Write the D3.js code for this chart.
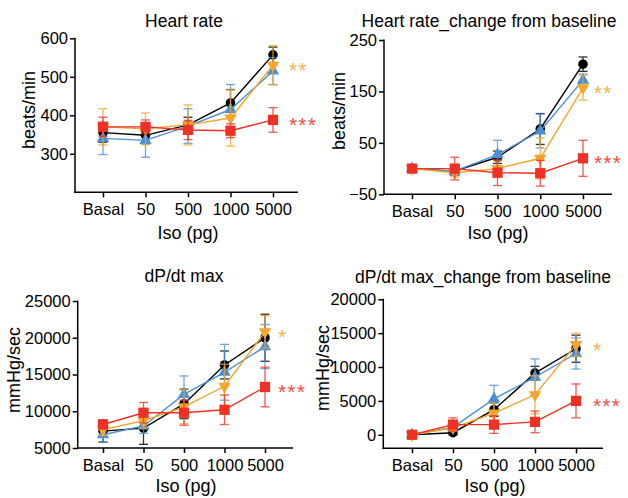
<!DOCTYPE html>
<html>
<head>
<meta charset="utf-8">
<script src="https://cdn.jsdelivr.net/npm/d3@7"></script>
<style>
  html, body { margin: 0; padding: 0; background: #ffffff; }
  svg { display: block; font-family: "Liberation Sans", Arial, sans-serif; }
</style>
</head>
<body>
<script>
// ---------------- DATA ----------------
const categories = ["Basal", "50", "500", "1000", "5000"];

// Heart rate (beats/min)
const hrTicks = [300, 400, 500, 600];
const hrBlack = [355, 348, 375, 432, 557];
const hrBlackErr = [25, 22, 20, 35, 20];
const hrBlue = [340, 335, 372, 415, 515];
const hrBlueErr = [42, 44, 45, 65, 35];
const hrOrange = [370, 365, 375, 393, 530];
const hrOrangeErr = [47, 41, 52, 73, 51];
const hrRed = [370, 370, 362, 360, 388];
const hrRedErr = [25, 18, 25, 18, 32];

// Heart rate change from baseline (beats/min)
const hrcTicks = [-50, 50, 150, 250];
const hrcBlack = [0, -5, 22, 77, 203];
const hrcBlackErr = [0, 8, 12, 30, 14];
const hrcBlue = [0, -5, 27, 73, 172];
const hrcBlueErr = [0, 8, 28, 33, 12];
const hrcOrange = [0, -8, 0, 20, 157];
const hrcOrangeErr = [0, 8, 15, 40, 24];
const hrcRed = [0, 0, -8, -9, 20];
const hrcRedErr = [0, 22, 25, 25, 35];

// dP/dt max (mmHg/sec)
const dpTicks = [5000, 10000, 15000, 20000, 25000];
const dpBlack = [7300, 7700, 11000, 16300, 20000];
const dpBlackErr = [1500, 2200, 2000, 1900, 3200];
const dpBlue = [6800, 8000, 12300, 15300, 18800];
const dpBlueErr = [1000, 1000, 2500, 3800, 3000];
const dpOrange = [7500, 8700, 10600, 13400, 20800];
const dpOrangeErr = [800, 1000, 2300, 3000, 2200];
const dpRed = [8200, 9800, 9800, 10200, 13300];
const dpRedErr = [500, 1400, 1700, 2000, 2700];

// dP/dt max change from baseline (mmHg/sec)
const dpcTicks = [0, 5000, 10000, 15000, 20000];
const dpcBlack = [0, 300, 3700, 9100, 12700];
const dpcBlackErr = [0, 300, 1000, 1000, 2000];
const dpcBlue = [0, 1100, 5300, 8500, 12000];
const dpcBlueErr = [0, 500, 2000, 2700, 2300];
const dpcOrange = [0, 1000, 3200, 5900, 13300];
const dpcOrangeErr = [0, 500, 1500, 2800, 1700];
const dpcRed = [0, 1500, 1500, 1900, 5000];
const dpcRedErr = [0, 1000, 1300, 1600, 2500];

// significance labels
const starsOrange = ["**", "**", "*", "*"];
const starsRed = ["***", "***", "***", "***"];

// ---------------- STYLE ----------------
const C = { black: "#000000", blue: "#4a90d6", orange: "#f5a52a", red: "#ee3124" };

const svg = d3.select("body").append("svg").attr("width", 628).attr("height", 498);

function mkSeries(b, be, bl, ble, o, oe, r, re) {
  return [
    { values: b, err: be, color: C.black, sym: "circle" },
    { values: bl, err: ble, color: C.blue, sym: "up" },
    { values: o, err: oe, color: C.orange, sym: "down" },
    { values: r, err: re, color: C.red, sym: "square" }
  ];
}

const panels = [
  { title: "Heart rate", ylabel: "beats/min", left: 75, right: 298, top: 38.3, bottom: 192.3,
    x0: 103, x1: 273, ydom: [200, 600], yticks: hrTicks,
    series: mkSeries(hrBlack, hrBlackErr, hrBlue, hrBlueErr, hrOrange, hrOrangeErr, hrRed, hrRedErr),
    stars: [starsOrange[0], starsRed[0]], starDx: 16,
    titleX: 184, titleY: 27, ylabX: 35, ylabY: 110, xlabX: 188, xlabY: 239 },
  { title: "Heart rate_change from baseline", ylabel: "beats/min", left: 384, right: 612, top: 40, bottom: 194.3,
    x0: 412, x1: 583, ydom: [-50, 250], yticks: hrcTicks,
    series: mkSeries(hrcBlack, hrcBlackErr, hrcBlue, hrcBlueErr, hrcOrange, hrcOrangeErr, hrcRed, hrcRedErr),
    stars: [starsOrange[1], starsRed[1]], starDx: 11,
    titleX: 489, titleY: 27, ylabX: 345, ylabY: 111, xlabX: 498, xlabY: 239 },
  { title: "dP/dt max", ylabel: "mmHg/sec", left: 77.7, right: 293, top: 301, bottom: 448,
    x0: 103, x1: 265, ydom: [5000, 25000], yticks: dpTicks,
    series: mkSeries(dpBlack, dpBlackErr, dpBlue, dpBlueErr, dpOrange, dpOrangeErr, dpRed, dpRedErr),
    stars: [starsOrange[2], starsRed[2]], starDx: 13,
    titleX: 184, titleY: 282, ylabX: 20, ylabY: 370, xlabX: 186, xlabY: 492 },
  { title: "dP/dt max_change from baseline", ylabel: "mmHg/sec", left: 383.3, right: 603, top: 299.3, bottom: 448.3,
    x0: 412, x1: 576, ydom: [-2000, 20000], yticks: dpcTicks,
    series: mkSeries(dpcBlack, dpcBlackErr, dpcBlue, dpcBlueErr, dpcOrange, dpcOrangeErr, dpcRed, dpcRedErr),
    stars: [starsOrange[3], starsRed[3]], starDx: 17,
    titleX: 483, titleY: 283, ylabX: 329, ylabY: 368, xlabX: 495, xlabY: 492 }
];

function symbolPath(sym) {
  if (sym === "circle") return d3.symbol(d3.symbolCircle, 72)();
  if (sym === "square") return d3.symbol(d3.symbolSquare, 105)();
  return d3.symbol(d3.symbolTriangle, 66)();
}

panels.forEach(p => {
  const g = svg.append("g");
  const x = d3.scalePoint().domain(categories).range([p.x0, p.x1]);
  const y = d3.scaleLinear().domain(p.ydom).range([p.bottom, p.top]);

  // y axis
  const ya = g.append("g").attr("transform", `translate(${p.left},0)`)
    .call(d3.axisLeft(y).tickValues(p.yticks).tickFormat(d3.format("d")).tickSize(5).tickPadding(2));
  ya.select(".domain").remove();
  ya.selectAll("line").attr("stroke", "#000").attr("stroke-width", 1.5);
  ya.selectAll("text").attr("font-size", 16.5).attr("fill", "#000")
    .attr("font-family", "Liberation Sans, Arial, sans-serif");
  g.append("line").attr("x1", p.left).attr("x2", p.left).attr("y1", p.top - 0.5).attr("y2", p.bottom + 0.75)
    .attr("stroke", "#000").attr("stroke-width", 1.5);

  // x axis
  const xa = g.append("g").attr("transform", `translate(0,${p.bottom})`)
    .call(d3.axisBottom(x).tickSize(5).tickPadding(6));
  xa.select(".domain").remove();
  xa.selectAll("line").attr("stroke", "#000").attr("stroke-width", 1.5);
  xa.selectAll("text").attr("font-size", 16.5).attr("fill", "#000")
    .attr("font-family", "Liberation Sans, Arial, sans-serif");
  g.append("line").attr("x1", p.left - 0.75).attr("x2", p.right).attr("y1", p.bottom).attr("y2", p.bottom)
    .attr("stroke", "#000").attr("stroke-width", 1.5);

  // titles
  g.append("text").attr("x", p.titleX).attr("y", p.titleY).attr("text-anchor", "middle")
    .attr("font-size", 17.5).text(p.title);
  g.append("text").attr("x", p.xlabX).attr("y", p.xlabY).attr("text-anchor", "middle")
    .attr("font-size", 18).text("Iso (pg)");
  g.append("text").attr("transform", `translate(${p.ylabX},${p.ylabY}) rotate(-90)`)
    .attr("text-anchor", "middle").attr("font-size", 18).text(p.ylabel);

  // series
  p.series.forEach(s => {
    const sg = g.append("g");
    const pts = categories.map((c, i) => ({ c, v: s.values[i], e: s.err[i] }));
    // error bars
    const eb = sg.selectAll(".eb").data(pts.filter(d => d.e > 0)).join("g")
      .attr("stroke", s.color).attr("stroke-width", 1.3).attr("opacity", 0.8);
    eb.append("line").attr("x1", d => x(d.c)).attr("x2", d => x(d.c))
      .attr("y1", d => y(d.v - d.e)).attr("y2", d => y(d.v + d.e));
    eb.append("line").attr("x1", d => x(d.c) - 4.5).attr("x2", d => x(d.c) + 4.5)
      .attr("y1", d => y(d.v + d.e)).attr("y2", d => y(d.v + d.e));
    eb.append("line").attr("x1", d => x(d.c) - 4.5).attr("x2", d => x(d.c) + 4.5)
      .attr("y1", d => y(d.v - d.e)).attr("y2", d => y(d.v - d.e));
    // line
    sg.append("path").datum(pts)
      .attr("d", d3.line().x(d => x(d.c)).y(d => y(d.v)))
      .attr("fill", "none").attr("stroke", s.color).attr("stroke-width", 1.4);
    // markers
    sg.selectAll(".mk").data(pts).join("path")
      .attr("d", symbolPath(s.sym))
      .attr("transform", d => `translate(${x(d.c)},${y(d.v)})` + (s.sym === "down" ? " rotate(180)" : ""))
      .attr("fill", s.color);
  });

  // significance stars (orange, red) next to last point
  const last = categories[categories.length - 1];
  const starSeries = [p.series[2], p.series[3]];
  starSeries.forEach((s, k) => {
    g.append("text")
      .attr("x", x(last) + p.starDx)
      .attr("y", y(s.values[s.values.length - 1]) + 12)
      .attr("font-size", 21).attr("letter-spacing", 1.2)
      .attr("fill", s.color).attr("opacity", 0.85)
      .text(p.stars[k]);
  });
});
</script>
</body>
</html>
